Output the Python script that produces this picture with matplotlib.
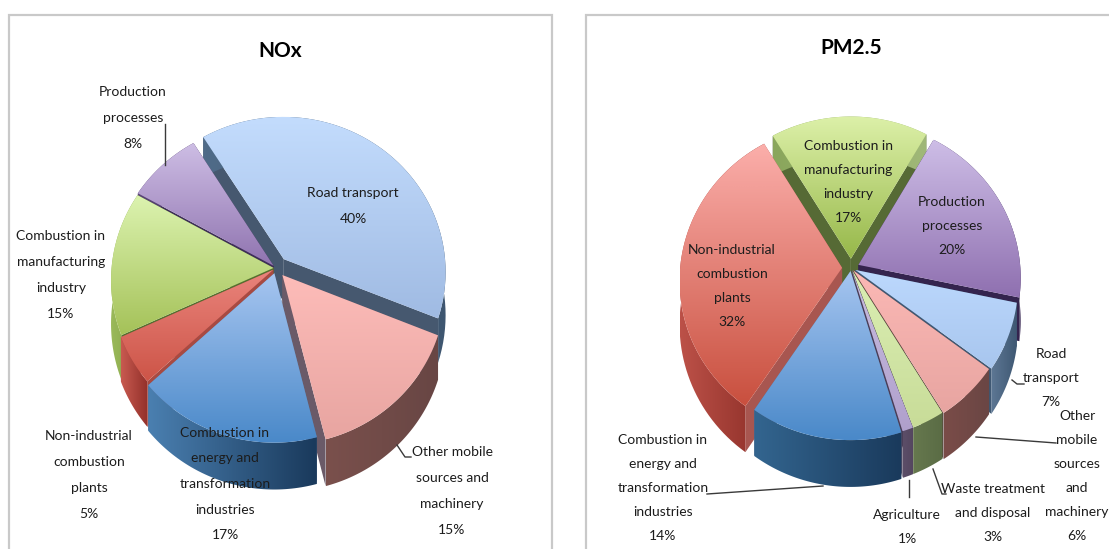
import numpy as np
import matplotlib
matplotlib.use("Agg")
import matplotlib.pyplot as plt
from matplotlib.colors import LinearSegmentedColormap
from matplotlib.patches import Polygon, Rectangle

plt.rcParams['font.family'] = ['Lato', 'Liberation Sans', 'DejaVu Sans']

# NOx emissions by source
nox_names = ['Road transport', 'Other mobile\nsources and\nmachinery',
             'Combustion in\nenergy and\ntransformation\nindustries',
             'Non-industrial\ncombustion\nplants',
             'Combustion in\nmanufacturing\nindustry', 'Production\nprocesses']
nox_values = [40, 15, 17, 5, 15, 8]

# PM2.5 emissions by source
pm_names = ['Road\ntransport', 'Other\nmobile\nsources\nand\nmachinery',
            'Waste treatment\nand disposal', 'Agriculture',
            'Combustion in\nenergy and\ntransformation\nindustries',
            'Non-industrial\ncombustion\nplants',
            'Combustion in\nmanufacturing\nindustry', 'Production\nprocesses']
pm_values = [7, 6, 3, 1, 14, 32, 17, 20]

# top colour pair, rim colour pair, cut face colour
nox_style = [
    (('#c3dcfd', '#a0bbe3'), ('#4f6b88', '#3e5670'), '#46586f'),
    (('#fdbcb9', '#e8a5a1'), ('#7a504c', '#684644'), '#6a5a68'),
    (('#a6c5f0', '#4a89c9'), ('#4a7fb0', '#1a3a5c'), '#5f6f90'),
    (('#ea847c', '#cd5548'), ('#c85a50', '#93302a'), '#a84a42'),
    (('#dcf3b0', '#a5c259'), ('#9ab95a', '#86a548'), '#55702f'),
    (('#cdbde4', '#9074b0'), ('#5a4578', '#483660'), '#3e2e58'),
]
pm_style = [
    (('#bcd8fd', '#a8c6ee'), ('#5d7794', '#3f5873'), '#3f5873'),
    (('#fbb8b5', '#e8a5a1'), ('#7a4c48', '#6a4644'), '#5c3f3e'),
    (('#dbefb4', '#c8dc98'), ('#66784e', '#5a6c45'), '#4e5f3a'),
    (('#c8bde0', '#b0a0cc'), ('#5c4e68', '#54465f'), '#4a3e58'),
    (('#a6c5f0', '#4a89c9'), ('#33658f', '#1a3a5c'), '#5f6f90'),
    (('#fbaeaa', '#c9503f'), ('#bc5148', '#8e2f28'), '#a85650'),
    (('#dcf0a8', '#97b84a'), ('#8aa65c', '#a0b878'), '#566a35'),
    (('#cdbde6', '#8f70b0'), ('#4a3868', '#3a2a55'), '#34244e'),
]

# how far each slice is pulled away from the centre
nox_explode = [0.075, 0.06, 0.035, 0.02, 0.015, 0.02]
pm_explode = [0.03, 0.02, 0.015, 0.015, 0.02, 0.055, 0.06, 0.05]

RX, RY, PERSP, DEPTH = 162, 155, 0.08, 43


def project(cx, cy, u, v):
    # disc coordinates to screen pixels, the near side comes out larger
    s = 1 / (1 + PERSP * v)
    return cx + RX * u * s, cy - RY * v * s, s


def fill_gradient(ax, pts, c0, c1, vertical, z):
    pts = np.array(pts)
    cmap = LinearSegmentedColormap.from_list('g', [c0, c1])
    x0, y0 = pts.min(axis=0)
    x1, y1 = pts.max(axis=0)
    grad = np.linspace(0, 1, 64)
    grad = grad[:, None] if vertical else grad[None, :]
    im = ax.imshow(grad, cmap=cmap, extent=(x0, x1, y1, y0), origin='upper',
                   aspect='auto', zorder=z, interpolation='bilinear')
    im.set_clip_path(Polygon(pts, closed=True, transform=ax.transData))


def draw_pie(ax, cx, cy, values, style, explode, start):
    fracs = np.array(values) / sum(values)
    edges = start + 360 * np.concatenate([[0], np.cumsum(fracs)])
    mids = (edges[:-1] + edges[1:]) / 2
    # back slices first so the front ones sit over them
    order = np.argsort(-np.cos(np.radians(mids)))
    z = 2
    for i in order:
        th = np.radians(np.linspace(edges[i], edges[i + 1], 60))
        mid = np.radians(mids[i])
        ou, ov = explode[i] * np.sin(mid), explode[i] * np.cos(mid)
        us, vs = ou + np.sin(th), ov + np.cos(th)
        x, y, s = project(cx, cy, us, vs)
        ax_, ay_, as_ = project(cx, cy, ou, ov)
        top = [(ax_, ay_)] + list(zip(x, y))
        (t0, t1), (r0, r1), cut = style[i]
        # the two cut faces
        for k in (0, -1):
            face = [(ax_, ay_), (x[k], y[k]), (x[k], y[k] + DEPTH * s[k]),
                    (ax_, ay_ + DEPTH * as_)]
            ax.add_patch(Polygon(face, closed=True, fc=cut, ec='none', zorder=z))
        # outer rim
        rim = list(zip(x, y)) + list(zip(x[::-1], (y + DEPTH * s)[::-1]))
        fill_gradient(ax, rim, r0, r1, False, z + 0.1)
        fill_gradient(ax, top, t0, t1, True, z + 0.2)
        z += 1


def draw_labels(ax, names, values, spots, spacing):
    for name, val, (x, y) in zip(names, values, spots):
        ax.text(x, y, f'{name}\n{val}%', ha='center', va='center', fontsize=10,
                color='#1c1c1c', linespacing=spacing, zorder=40)


fig = plt.figure(figsize=(11.09, 5.49), dpi=100)
ax = fig.add_axes([0, 0, 1, 1])
ax.axis('off')

# chart frames, both run off the bottom of the figure
ax.add_patch(Rectangle((9, 15), 543, 560, fc='white', ec='#c9c9c9', lw=1.6, zorder=1))
ax.add_patch(Rectangle((586, 15), 560, 560, fc='white', ec='#c9c9c9', lw=1.6, zorder=1))

draw_pie(ax, 276, 268, nox_values, nox_style, nox_explode, -32)
draw_pie(ax, 851, 268, pm_values, pm_style, pm_explode, 102)

ax.text(280, 51, 'NOx', ha='center', va='center', fontsize=15, fontweight='bold', zorder=40)
ax.text(851, 48, 'PM2.5', ha='center', va='center', fontsize=15, fontweight='bold', zorder=40)

nox_spots = [(353, 206), (452, 491), (225, 484), (89, 475), (61, 275), (133, 118)]
pm_spots = [(1051, 378), (1077, 476), (993, 513), (907, 527), (663, 488),
            (732, 286), (848, 182), (952, 226)]
draw_labels(ax, nox_names, nox_values, nox_spots, 2.37)
draw_labels(ax, pm_names, pm_values, pm_spots, 2.2)

# leader lines from the small slices out to their labels
leaders = [
    ([165, 165], [124, 165]),
    ([397, 405, 411], [445, 457, 457]),
    ([1012, 1017, 1024], [380, 384, 384]),
    ([976, 1056], [437, 443]),
    ([933, 942, 946], [469, 494, 494]),
    ([909, 909], [480, 497]),
    ([823, 707], [486, 494]),
]
for lx, ly in leaders:
    ax.plot(lx, ly, color='#3a3a3a', lw=1, zorder=39)

ax.set_xlim(0, 1109)
ax.set_ylim(549, 0)
fig.savefig('out.png', dpi=100)
